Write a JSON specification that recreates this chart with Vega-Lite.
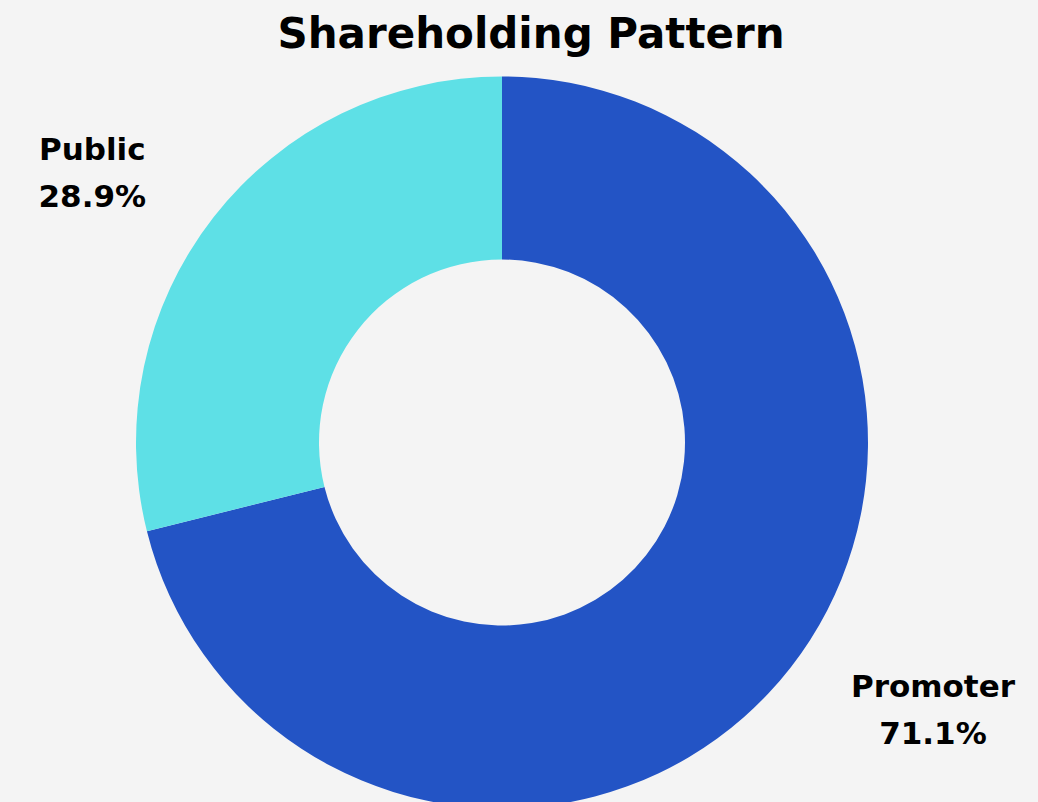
{
  "$schema": "https://vega.github.io/schema/vega-lite/v6.json",
  "width": 1038,
  "height": 802,
  "autosize": {"type": "fit", "contains": "padding"},
  "padding": {"left": 0, "right": 34, "top": 20, "bottom": 0},
  "background": "#f4f4f4",
  "title": {
    "text": "Shareholding Pattern",
    "font": "DejaVu Sans",
    "fontSize": 42,
    "fontWeight": "bold",
    "color": "#000000",
    "anchor": "middle",
    "dx": 29,
    "offset": 20
  },
  "data": {
    "values": [
      {"holder": "Promoter", "share": 71.1, "label": "Promoter\n71.1%"},
      {"holder": "Public", "share": 28.9, "label": "Public\n28.9%"}
    ]
  },
  "encoding": {
    "theta": {"field": "share", "type": "quantitative", "stack": true},
    "order": {"field": "holder", "type": "nominal"}
  },
  "layer": [
    {
      "mark": {"type": "arc", "outerRadius": 366, "innerRadius": 183},
      "encoding": {
        "color": {
          "field": "holder",
          "type": "nominal",
          "scale": {"domain": ["Promoter", "Public"], "range": ["#2354C5", "#5EE0E6"]},
          "legend": null
        }
      }
    },
    {
      "mark": {
        "type": "text",
        "radius": 503,
        "thetaOffset": -0.044,
        "font": "DejaVu Sans",
        "fontSize": 31,
        "fontWeight": "bold",
        "color": "#000000",
        "lineBreak": "\n",
        "lineHeight": 47,
        "align": "center",
        "baseline": "middle"
      },
      "encoding": {
        "text": {"condition": {"test": "datum.holder === 'Public'", "field": "label"}, "value": ""}
      }
    },
    {
      "mark": {
        "type": "text",
        "radius": 496,
        "thetaOffset": -0.145,
        "font": "DejaVu Sans",
        "fontSize": 31,
        "fontWeight": "bold",
        "color": "#000000",
        "lineBreak": "\n",
        "lineHeight": 47,
        "align": "center",
        "baseline": "middle"
      },
      "encoding": {
        "text": {"condition": {"test": "datum.holder === 'Promoter'", "field": "label"}, "value": ""}
      }
    }
  ],
  "config": {"view": {"stroke": null}}
}
